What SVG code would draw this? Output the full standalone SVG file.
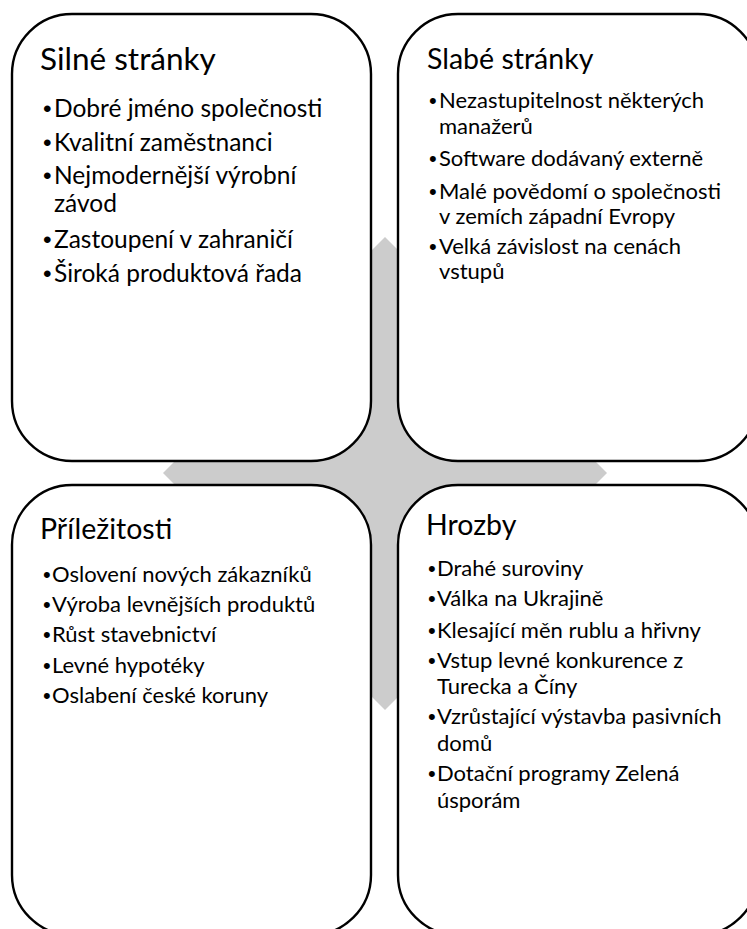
<svg xmlns="http://www.w3.org/2000/svg" width="747" height="929" viewBox="0 0 747 929">
<style>
.box{fill:#ffffff;stroke:#000000;stroke-width:2.4}
.bg{fill:#cccccc}
text{font-family:Lato,"Noto Sans","Liberation Sans",sans-serif;fill:#000000}
text.bu{font-family:"Liberation Sans",Arial,sans-serif}
.t1{font-size:31.5px}
.t2{font-size:28.5px}
.b1{font-size:24.5px}
.b2{font-size:22px}
</style>
<rect x="0" y="0" width="747" height="929" fill="#ffffff"/>
<g id="connectors">
<polygon class="bg" points="163,473 213,423 335,423 335,287 385,237 435,287 435,423 557,423 607,473 557,523 435,523 435,660 385,710 335,660 335,523 213,523"/>
</g>
<g id="silne">
<rect class="box" x="12" y="14" width="359" height="447" rx="60" ry="60"/>
<text class="t1" x="40" y="70">Silné stránky</text>
<text class="b1 bu" x="43" y="117">•</text><text class="b1" x="54" y="117">Dobré jméno společnosti</text>
<text class="b1 bu" x="43" y="151">•</text><text class="b1" x="54" y="151">Kvalitní zaměstnanci</text>
<text class="b1 bu" x="43" y="184">•</text><text class="b1" x="54" y="184">Nejmodernější výrobní</text>
<text class="b1" x="54" y="212">závod</text>
<text class="b1 bu" x="43" y="248">•</text><text class="b1" x="54" y="248">Zastoupení v zahraničí</text>
<text class="b1 bu" x="43" y="282">•</text><text class="b1" x="54" y="282">Široká produktová řada</text>
</g>
<g id="slabe">
<rect class="box" x="398" y="14" width="360" height="447" rx="60" ry="60"/>
<text class="t2" x="427" y="69">Slabé stránky</text>
<text class="b2 bu" x="429" y="108">•</text><text class="b2" x="439" y="108">Nezastupitelnost některých</text>
<text class="b2" x="439" y="134">manažerů</text>
<text class="b2 bu" x="429" y="166">•</text><text class="b2" x="439" y="166">Software dodávaný externě</text>
<text class="b2 bu" x="429" y="199">•</text><text class="b2" x="439" y="199">Malé povědomí o společnosti</text>
<text class="b2" x="439" y="224">v zemích západní Evropy</text>
<text class="b2 bu" x="429" y="254">•</text><text class="b2" x="439" y="254">Velká závislost na cenách</text>
<text class="b2" x="439" y="279">vstupů</text>
</g>
<g id="prilezitosti">
<rect class="box" x="12" y="485" width="359" height="450" rx="60" ry="60"/>
<text class="t2" x="40" y="539">Příležitosti</text>
<text class="b2 bu" x="43" y="582">•</text><text class="b2" x="52" y="582">Oslovení nových zákazníků</text>
<text class="b2 bu" x="43" y="612">•</text><text class="b2" x="52" y="612">Výroba levnějších produktů</text>
<text class="b2 bu" x="43" y="642">•</text><text class="b2" x="52" y="642">Růst stavebnictví</text>
<text class="b2 bu" x="43" y="673">•</text><text class="b2" x="52" y="673">Levné hypotéky</text>
<text class="b2 bu" x="43" y="703">•</text><text class="b2" x="52" y="703">Oslabení české koruny</text>
</g>
<g id="hrozby">
<rect class="box" x="398" y="485" width="360" height="450" rx="60" ry="60"/>
<text class="t2" x="426" y="535">Hrozby</text>
<text class="b2 bu" x="428" y="576">•</text><text class="b2" x="437" y="576">Drahé suroviny</text>
<text class="b2 bu" x="428" y="606">•</text><text class="b2" x="437" y="606">Válka na Ukrajině</text>
<text class="b2 bu" x="428" y="638">•</text><text class="b2" x="437" y="638">Klesající měn rublu a hřivny</text>
<text class="b2 bu" x="428" y="668">•</text><text class="b2" x="437" y="668">Vstup levné konkurence z</text>
<text class="b2" x="437" y="694">Turecka a Číny</text>
<text class="b2 bu" x="428" y="724">•</text><text class="b2" x="437" y="724">Vzrůstající výstavba pasivních</text>
<text class="b2" x="437" y="751">domů</text>
<text class="b2 bu" x="428" y="781">•</text><text class="b2" x="437" y="781">Dotační programy Zelená</text>
<text class="b2" x="437" y="808">úsporám</text>
</g>
</svg>
